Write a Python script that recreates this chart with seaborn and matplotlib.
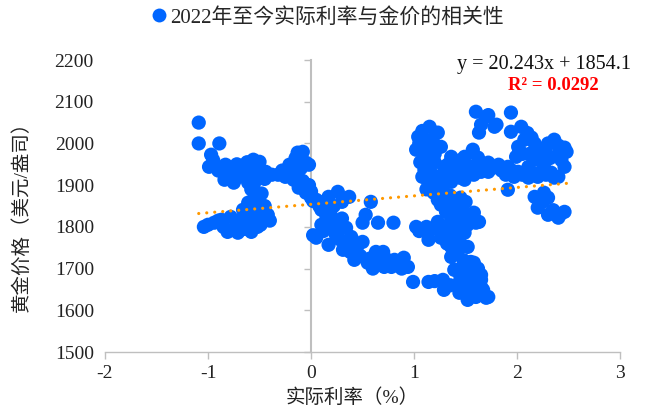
import numpy as np
import pandas as pd
import matplotlib
matplotlib.use("Agg")
import matplotlib.pyplot as plt
import seaborn as sns

left_x = [-1.09, -1.09, -0.89, -0.97, -0.99, -0.83, -0.84, -0.75, -0.66, -0.56, -0.50, -0.44,
          -0.32, -0.21, -0.13, -0.08, -0.05, -0.17, -0.12, -0.05, -0.61, -0.55, -0.51, -0.61,
          -0.66, -0.46, -0.78, -0.94, -1.04, -0.81, -0.71, -0.58, -0.49, -0.42, -0.87, -0.70,
          -0.58, -0.51, -0.75, -0.55, -0.45, -0.40, -0.02, 0.02,
          -0.95, -0.90, -0.80, -0.72, -0.62, -0.68, -0.60, -0.50, -0.45, -0.38, -0.28, -0.25,
          -0.15, -0.10, -0.15, -0.10, -0.08, -0.02, 0.00,
          -0.55, -0.58, -0.48, -0.52, -0.60, -0.55,
          -1.00, -0.90, -0.85, -0.75, -0.65, -0.62, -0.70, -0.52, -0.45]
left_y = [2050, 2000, 2000, 1973, 1944, 1949, 1913, 1932, 1944, 1961, 1956, 1932,
          1925, 1949, 1978, 1980, 1954, 1913, 1894, 1882, 1906, 1884, 1865, 1858,
          1841, 1834, 1824, 1810, 1800, 1788, 1786, 1788, 1805, 1829, 1817, 1920,
          1920, 1920, 1906, 1906, 1850, 1815, 1949, 1862,
          1960, 1935, 1925, 1950, 1955, 1930, 1935, 1940, 1915, 1925, 1935, 1920,
          1930, 1960, 1965, 1940, 1910, 1900, 1885,
          1870, 1890, 1880, 1845, 1830, 1820,
          1805, 1815, 1800, 1795, 1795, 1810, 1815, 1800, 1815]

mid_x = [-0.03, 0.05, 0.17, 0.26, 0.37, 0.15, 0.26, 0.05, 0.17, 0.34, 0.39, 0.31,
         0.50, 0.42, 0.55, 0.63, 0.70, 0.71, 0.81, 0.90, 0.94, 0.78, 0.10, 0.19,
         0.10, 0.24, 0.34, 0.44, 0.08, 0.58, 0.50, 0.65, 0.80, 0.53,
         0.00, 0.12, 0.20, 0.30, 0.22, 0.30, 0.12, 0.28, 0.38, 0.48, 0.58, 0.65,
         0.60, 0.75, 0.85, 0.88, 0.45, 0.02]
mid_y = [1894, 1865, 1872, 1884, 1872, 1824, 1810, 1774, 1757, 1798, 1776, 1745,
         1764, 1721, 1714, 1740, 1740, 1704, 1721, 1726, 1704, 1704, 1841, 1829,
         1805, 1781, 1757, 1745, 1850, 1860, 1810, 1810, 1810, 1829,
         1870, 1790, 1805, 1820, 1850, 1860, 1860, 1770, 1740, 1730, 1725, 1720,
         1700, 1720, 1715, 1700, 1755, 1780]

upper_x = [1.15, 1.04, 1.02, 1.23, 1.26, 1.10, 1.10, 1.14, 1.19, 1.29, 1.36, 1.49,
           1.55, 1.65, 1.49, 1.24, 1.36, 1.23, 1.31, 1.41, 1.44, 1.31, 1.38, 1.41,
           1.26, 1.31, 1.60, 1.70, 1.94, 1.80, 1.63, 1.65, 2.04, 2.14, 2.01, 1.99,
           2.07, 1.94, 2.02, 2.36, 2.48, 2.46, 2.46, 2.40, 2.23, 2.26, 2.11, 1.91,
           1.82, 1.72, 1.58, 1.49, 1.62, 1.57, 1.72, 2.33, 2.20, 1.97, 1.89, 2.01,
           2.20, 2.20, 2.11, 2.36, 1.91, 2.17, 2.30, 2.20, 2.30, 2.40, 2.46, 2.26,
           1.45, 1.50,
           1.08, 1.12, 1.18, 1.05, 1.15, 1.20, 1.06, 1.15, 1.20, 1.08, 1.18, 1.12,
           1.20, 1.28, 1.25, 1.30, 1.35, 1.42,
           1.33, 1.45, 1.40, 1.52, 1.60, 1.68, 1.75, 1.85, 1.95, 2.05, 2.15, 2.28,
           1.72, 1.78, 2.10, 2.17, 2.05, 2.12, 2.28, 2.32, 2.40, 2.43, 2.30, 2.40,
           2.25, 2.35, 2.42]
upper_y = [2040, 2016, 1985, 2026, 1992, 1966, 1937, 1906, 1882, 1944, 1968, 1968,
           1944, 1932, 1913, 1920, 1908, 1865, 1925, 1949, 1918, 1865, 1853, 1836,
           1853, 1836, 2076, 2064, 2074, 2045, 2026, 2045, 2040, 2014, 1992, 1968,
           2009, 2028, 1985, 2009, 1980, 1990, 1944, 1920, 1973, 1944, 1944, 1944,
           1949, 1932, 1925, 1930, 1966, 1985, 1954, 1930, 1920, 1920, 1925, 1932,
           1985, 1961, 1918, 1918, 1889, 1872, 1870, 1846, 1829, 1822, 1836, 1882,
           1870, 1860,
           2030, 2005, 2010, 2000, 1985, 1975, 1955, 1950, 1955, 1920, 1925, 1890,
           1900, 1900, 1880, 1880, 1875, 1855,
           1950, 1960, 1935, 1935, 1940, 1945, 1940, 1935, 1935, 1925, 1930, 1925,
           2068, 2040, 2025, 2000, 1975, 1975, 1990, 1965, 1975, 1960, 2000, 1995,
           1860, 1840, 1830]

lower_x = [1.02, 1.12, 1.23, 1.36, 1.14, 1.26, 1.43, 1.55, 1.60, 1.49, 1.36, 1.52,
           1.36, 1.41, 1.58, 1.65, 1.55, 1.49, 1.60, 1.70, 1.29, 1.28, 1.14, 0.99,
           1.67, 1.44, 1.36, 1.46, 1.58, 1.63, 1.29, 1.55, 1.39, 1.60, 1.65, 1.52,
           1.72, 1.65, 1.44,
           1.05, 1.18, 1.30, 1.40, 1.45, 1.32, 1.42, 1.48, 1.50, 1.45, 1.50, 1.58,
           1.62, 1.55, 1.35, 1.20, 1.55, 1.62, 1.40, 1.50, 1.52]
lower_y = [1800, 1800, 1812, 1817, 1769, 1774, 1810, 1824, 1810, 1786, 1752, 1752,
           1728, 1697, 1714, 1685, 1673, 1642, 1632, 1630, 1649, 1673, 1668, 1668,
           1649, 1666, 1793, 1834, 1834, 1812, 1776, 1716, 1697, 1692, 1673, 1625,
           1632, 1656, 1642,
           1790, 1795, 1800, 1780, 1760, 1760, 1740, 1720, 1700, 1680, 1660, 1660,
           1700, 1690, 1660, 1670, 1645, 1645, 1820, 1830, 1805]

trend_slope = 20.243
trend_intercept = 1854.1
eq_text = "y = 20.243x + 1854.1"
r2_text = "R² = 0.0292"
series_name = "2022年至今实际利率与金价的相关性"
x_ticks = [-2, -1, 0, 1, 2, 3]
y_ticks = [1500, 1600, 1700, 1800, 1900, 2000, 2100, 2200]

df = pd.DataFrame({
    "rate": left_x + mid_x + upper_x + lower_x,
    "gold": left_y + mid_y + upper_y + lower_y,
})

# ---- style ----
sns.set_theme(style="white")
plt.rcParams["font.family"] = ["Liberation Serif", "Noto Sans CJK SC"]
plt.rcParams["axes.unicode_minus"] = False

BLUE = "#0066FF"
ORANGE = "#FF9900"
GRAY = "#BFBFBF"

fig = plt.figure(figsize=(6.46, 4.12), dpi=100)
ax = fig.add_axes([0.1625, 0.1456, 0.7975, 0.7087])

sns.scatterplot(data=df, x="rate", y="gold", ax=ax, color=BLUE, s=105,
                edgecolor="none", linewidth=0, legend=False, zorder=3)

xs = np.array([df["rate"].min(), df["rate"].max()])
ax.plot(xs, trend_slope * xs + trend_intercept, color=ORANGE, lw=2.3,
        linestyle=(0, (0.01, 2.5)), dash_capstyle="round", zorder=4)

ax.set_xlim(-2, 3)
ax.set_ylim(1500, 2200)
ax.set_xticks(x_ticks)
ax.set_yticks(y_ticks)
ax.set_xticklabels([str(v) for v in x_ticks])
ax.set_yticklabels([str(v) for v in y_ticks])

for s in ["top", "right", "left"]:
    ax.spines[s].set_visible(False)
ax.spines["bottom"].set_color(GRAY)
ax.spines["bottom"].set_linewidth(1.0)
ax.tick_params(axis="x", direction="out", length=5, width=1.0, color=GRAY,
               labelsize=14, labelcolor="#222222", pad=4, bottom=True)
ax.tick_params(axis="y", length=0, labelsize=14, labelcolor="#222222", pad=8)

# vertical axis line crossing at x = 0
sec = ax.secondary_yaxis(2 / 5)
sec.set_yticks(y_ticks)
sec.tick_params(axis="y", direction="out", length=5, width=1.0, color=GRAY,
                labelleft=False, labelright=False)
for s in sec.spines.values():
    s.set_color(GRAY)
    s.set_linewidth(1.5)

ax.set_xlabel("实际利率（%）", fontsize=14, color="#222222")
ax.xaxis.set_label_coords(0.48, -0.125)
ax.set_ylabel("黄金价格（美元/盎司）", fontsize=14, color="#222222")
ax.yaxis.set_label_coords(-0.145, 0.48)

ax.text(0.852, 0.985, eq_text, transform=ax.transAxes, ha="center", va="center",
        fontsize=14.5, color="#111111")
ax.text(0.87, 0.912, r2_text, transform=ax.transAxes, ha="center", va="center",
        fontsize=13.5, color="#FF0000", fontweight="bold")

handle = plt.Line2D([], [], marker="o", linestyle="none", markersize=10,
                    markerfacecolor=BLUE, markeredgecolor="none")
fig.legend([handle], [series_name], loc="center", bbox_to_anchor=(0.505, 0.957),
           frameon=False, fontsize=15, handletextpad=0.0, handlelength=1.0,
           borderaxespad=0)

fig.savefig("out.png", dpi=100)
